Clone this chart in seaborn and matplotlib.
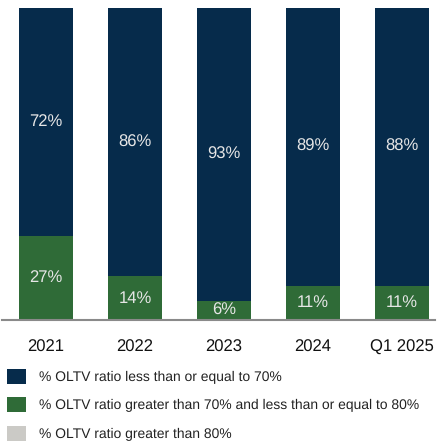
import matplotlib
matplotlib.use("Agg")
import matplotlib.pyplot as plt
import matplotlib.patches as mpatches
import seaborn as sns
import pandas as pd

# values
periods = ["2021", "2022", "2023", "2024", "Q1 2025"]
share_low = [72, 86, 93, 89, 88]    # OLTV <= 70%
share_mid = [27, 14, 6, 11, 11]     # 70% < OLTV <= 80%
share_total = [100, 100, 100, 100, 100]  # every bar is drawn to 100%

legend_labels = [
    "% OLTV ratio less than or equal to 70%",
    "% OLTV ratio greater than 70% and less than or equal to 80%",
    "% OLTV ratio greater than 80%",
]

navy = "#062b4b"
green = "#2f6b37"
grey = "#cbcac6"

df = pd.DataFrame({"period": periods, "low": share_low, "mid": share_mid, "total": share_total})

sns.set_style("white")
plt.rcParams["font.family"] = ["Liberation Sans", "DejaVu Sans"]
plt.rcParams["text.hinting"] = "no_hinting"

fig = plt.figure(figsize=(4.39, 4.43), dpi=100)
ax = fig.add_axes([2 / 439, 123 / 443, 433 / 439, 312 / 443])

# full stack first, then the lower segment on top of it
sns.barplot(data=df, x="period", y="total", color=navy, width=0.6, saturation=1, ax=ax)
sns.barplot(data=df, x="period", y="mid", color=green, width=0.6, saturation=1, ax=ax)

n = len(periods)
top_bars = ax.patches[:n]
for bar in ax.patches:
    bar.set_edgecolor("none")

# labels centred in each segment
for i, b_top in enumerate(top_bars):
    x = b_top.get_x() + b_top.get_width() / 2
    ax.text(x, (share_mid[i] + share_total[i]) / 2, f"{share_low[i]}%", ha="center",
            va="center", color="#e6e6e6", fontsize=12)
    ax.text(x, share_mid[i] / 2, f"{share_mid[i]}%", ha="center", va="center",
            color="#e6e6e6", fontsize=12)

ax.set_ylim(0, 100)
ax.set_xlim(-0.494, 4.37)
ax.set_xlabel("")
ax.set_ylabel("")
ax.set_yticks([])
ax.tick_params(axis="x", length=0, labelsize=12, colors="#111111", pad=14)
sns.despine(ax=ax, left=True, top=True, right=True)
ax.spines["bottom"].set_color("#8a8a8a")
ax.spines["bottom"].set_linewidth(1.5)

handles = [mpatches.Patch(facecolor=c, edgecolor="none") for c in (navy, green, grey)]
fig.legend(handles, legend_labels, loc="upper left", bbox_to_anchor=(7 / 439, 1 - 369 / 443),
           frameon=False, fontsize=10, handlelength=1.4, handleheight=1.3,
           handletextpad=0.9, labelspacing=0.95, borderaxespad=0, borderpad=0,
           labelcolor="#222222")

fig.savefig("out.png", dpi=100)
